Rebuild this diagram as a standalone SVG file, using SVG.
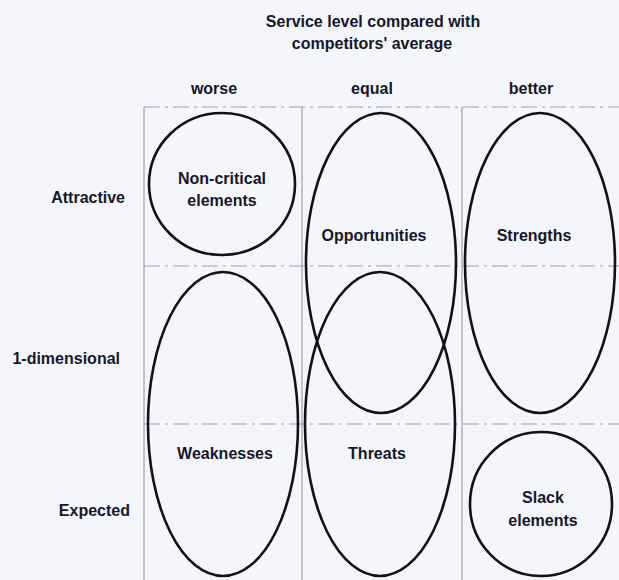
<svg xmlns="http://www.w3.org/2000/svg" width="619" height="580" viewBox="0 0 619 580">
  <style>
    text { font-family: "Liberation Sans", Arial, sans-serif; font-weight: bold; font-size: 16px; fill: #16162a; text-anchor: middle; dominant-baseline: central; }
    .row { text-anchor: end; }
    .grid line { stroke: #9c9cb8; stroke-width: 1.2; }
    .grid .h { stroke-dasharray: 16 5 3 5; }
    .shape { fill: none; stroke: #111118; stroke-width: 2.6; }
  </style>
  <rect width="619" height="580" fill="#f5f6fc"/>

  <!-- header -->
  <g id="header">
    <text x="373" y="21">Service level compared with</text>
    <text x="372" y="43">competitors' average</text>
    <text x="214" y="88">worse</text>
    <text x="372" y="88">equal</text>
    <text x="531" y="88">better</text>
  </g>

  <!-- row labels -->
  <g id="rows">
    <text class="row" x="125" y="197">Attractive</text>
    <text class="row" x="120" y="358">1-dimensional</text>
    <text class="row" x="130" y="510">Expected</text>
  </g>

  <!-- 3x3 grid -->
  <g class="grid">
    <line class="h" x1="144" y1="107" x2="619" y2="107"/>
    <line class="h" x1="144" y1="266" x2="619" y2="266"/>
    <line class="h" x1="144" y1="424" x2="619" y2="424"/>
    <line x1="144" y1="107" x2="144" y2="580"/>
    <line x1="302" y1="107" x2="302" y2="580"/>
    <line x1="462" y1="107" x2="462" y2="580"/>
  </g>

  <g id="non-critical">
    <ellipse class="shape" cx="222" cy="184" rx="73" ry="71"/>
    <text x="222" y="178">Non-critical</text>
    <text x="222" y="200">elements</text>
  </g>
  <g id="opportunities">
    <ellipse class="shape" cx="381" cy="263" rx="75" ry="150"/>
    <text x="374" y="235">Opportunities</text>
  </g>
  <g id="strengths">
    <ellipse class="shape" cx="540" cy="263" rx="75" ry="150"/>
    <text x="534" y="235">Strengths</text>
  </g>
  <g id="weaknesses">
    <ellipse class="shape" cx="223" cy="424" rx="75" ry="152"/>
    <text x="225" y="453">Weaknesses</text>
  </g>
  <g id="threats">
    <ellipse class="shape" cx="380" cy="424" rx="75" ry="152"/>
    <text x="377" y="453">Threats</text>
  </g>
  <g id="slack">
    <ellipse class="shape" cx="541" cy="504" rx="71" ry="72"/>
    <text x="543" y="497">Slack</text>
    <text x="543" y="520">elements</text>
  </g>
</svg>
